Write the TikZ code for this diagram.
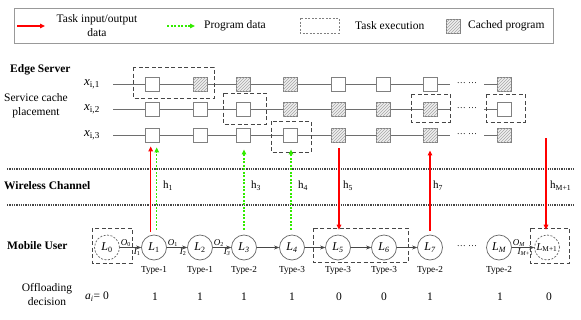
\documentclass[tikz,border=0pt]{standalone}
\usepackage{fontspec}
\setmainfont{Liberation Serif}
\usetikzlibrary{arrows.meta,patterns}
\definecolor{pgreen}{RGB}{51,235,0}
\definecolor{lgray}{RGB}{110,110,110}
\definecolor{dgray}{RGB}{70,70,70}
\begin{document}
\begin{tikzpicture}[x=1pt,y=-1pt,
  txt/.style={font=\fontsize{11.5}{14}\selectfont, inner sep=0pt},
  boldlab/.style={font=\fontsize{11.5}{14}\selectfont\bfseries, inner sep=0pt, anchor=west},
  typelab/.style={font=\fontsize{9.2}{11}\selectfont, inner sep=0pt},
  declab/.style={font=\fontsize{11.5}{14}\selectfont, inner sep=0pt},
  hlab/.style={font=\fontsize{11}{13}\selectfont, inner sep=0pt, anchor=west},
  xlab/.style={font=\fontsize{13}{15}\selectfont, inner sep=0pt},
  olab/.style={font=\fontsize{9}{10}\selectfont, inner sep=0.5pt},
  redarr/.style={draw=red, line width=1.3pt, -{Triangle[length=5pt,width=4.5pt]}},
  grnarr/.style={draw=pgreen, line width=1.1pt, dash pattern=on 2pt off 1.5pt, -{Triangle[length=5pt,width=4.5pt]}},
  execbox/.style={draw=dgray, line width=1pt, dash pattern=on 4pt off 2.5pt},
  cell/.style={draw=gray, line width=0.9pt, fill=white, minimum size=14pt, inner sep=0pt},
  cached/.style={draw=gray, line width=0.9pt, fill=gray!12, minimum size=14pt, inner sep=0pt, postaction={pattern=north east lines, pattern color=gray!70}},
  rowline/.style={draw=lgray, line width=0.9pt},
  chan/.style={draw=dgray, line width=1.3pt, dash pattern=on 1.3pt off 1pt},
  task/.style={circle, draw=gray!80!black, line width=0.7pt, minimum size=25pt, inner sep=0pt, font=\fontsize{12}{12}\selectfont},
  vtask/.style={task, dashed, dash pattern=on 2pt off 1.5pt},
  flow/.style={draw=dgray, line width=0.8pt, -{Stealth[length=5pt,width=4pt]}},
  dotslab/.style={font=\fontsize{9}{10}\selectfont, inner sep=0pt}
]
\useasboundingbox (0,0) rectangle (581,319);

% ---------------- legend ----------------
\draw[draw=gray!80, line width=0.8pt] (14,8) rectangle (553,43);
\coordinate (lr1) at (17,26); \coordinate (lr2) at (45,26);
\draw[redarr] (lr1) -- (lr2);
\node[txt, align=center] (ltask) at (97,26) {Task input/output\\data};
\coordinate (lg1) at (167,26); \coordinate (lg2) at (195,26);
\draw[grnarr] (lg1) -- (lg2);
\node[txt, anchor=west] (lprog) at (204,26) {Program data};
\draw[draw=gray, line width=0.6pt, dash pattern=on 2pt off 1.5pt] (300,18) rectangle (339,33);
\node[txt, anchor=west] (lexec) at (355,26) {Task execution};
\node[cached, line width=0.6pt] (lcache) at (453,26) {};
\node[txt, anchor=west] (lcp) at (468,26) {Cached program};

% ---------------- left labels ----------------
\node[boldlab] (es) at (10,70) {Edge Server};
\node[txt, align=center] (scp) at (36,106) {Service cache\\placement};
\node[xlab] (x1) at (92,84) {\itshape x\textsubscript{\upshape i,1}};
\node[xlab] (x2) at (92,109) {\itshape x\textsubscript{\upshape i,2}};
\node[xlab] (x3) at (92,135) {\itshape x\textsubscript{\upshape i,3}};
\node[boldlab] (wc) at (4,186) {Wireless Channel};
\node[boldlab] (mu) at (7,246) {Mobile User};
\node[txt, align=center] (od) at (47,295) {Offloading\\decision};

% ---------------- grid rows ----------------
\foreach \r/\y in {1/84,2/109,3/135}{
  \coordinate (rs\r) at (113,\y);
  \coordinate (re\r) at (450,\y);
  \coordinate (rl\r) at (484,\y);
  \draw[rowline] (rs\r) -- (re\r);
  \node[dotslab] (rd\r) at (467,\y-1) {\dots\ \dots};
}
\foreach \c/\x/\s in {1/152/cell,2/200/cached,3/243/cached,4/290/cached,5/338/cell,6/383/cell,7/430/cell,8/504/cached}
  \node[\s] (g1\c) at (\x,84) {};
\foreach \c/\x/\s in {1/152/cell,2/200/cell,3/243/cell,4/290/cached,5/338/cached,6/383/cached,7/430/cached,8/504/cell}
  \node[\s] (g2\c) at (\x,109) {};
\foreach \c/\x/\s in {1/152/cell,2/200/cell,3/243/cell,4/290/cell,5/338/cached,6/383/cached,7/430/cached,8/504/cached}
  \node[\s] (g3\c) at (\x,135) {};
\foreach \r in {1,2,3}
  \draw[rowline] (rl\r) -- (g\r8.west);

% task execution boxes (server)
\draw[execbox] (133,67) rectangle (214,98);
\draw[execbox] (223,93) rectangle (266,124);
\draw[execbox] (271,121) rectangle (311,152);
\draw[execbox] (411,94) rectangle (450,122);
\draw[execbox] (486,94) rectangle (525,122);

% ---------------- wireless channel ----------------
\coordinate (c1a) at (7,169); \coordinate (c1b) at (575,169);
\coordinate (c2a) at (7,205); \coordinate (c2b) at (575,205);
\draw[chan] (c1a) -- (c1b);
\draw[chan] (c2a) -- (c2b);

% ---------------- mobile user ----------------
\node[vtask] (L0) at (107,247.5) {\itshape L\textsubscript{\upshape 0}};
\node[task] (L1) at (154,247.5) {\itshape L\textsubscript{\upshape 1}};
\node[task] (L2) at (200,247.5) {\itshape L\textsubscript{\upshape 2}};
\node[task] (L3) at (244,247.5) {\itshape L\textsubscript{3}};
\node[task] (L4) at (292,247.5) {\itshape L\textsubscript{4}};
\node[task] (L5) at (338,247.5) {\itshape L\textsubscript{5}};
\node[task] (L6) at (384,247.5) {\itshape L\textsubscript{6}};
\node[task] (L7) at (430,247.5) {\itshape L\textsubscript{7}};
\node[task] (LM) at (499,247.5) {\itshape L\textsubscript{M}};
\node[vtask, font=\fontsize{10.5}{11}\selectfont] (LM1) at (547,247.5) {\itshape L\textsubscript{\upshape M+1}};
\node[dotslab] (mdots) at (467,246) {\dots\ \dots};

\draw[flow] (L0) -- node[olab, pos=0, anchor=south west] {\itshape O\textsubscript{\upshape 0}} node[olab, pos=1, anchor=north east] {\itshape I\textsubscript{\upshape 1}} (L1);
\draw[flow] (L1) -- node[olab, pos=0, anchor=south west] {\itshape O\textsubscript{\upshape 1}} node[olab, pos=1, anchor=north east] {\itshape I\textsubscript{\upshape 2}} (L2);
\draw[flow] (L2) -- node[olab, pos=0, anchor=south west] {\itshape O\textsubscript{\upshape 2}} node[olab, pos=1, anchor=north east] {\itshape I\textsubscript{3}} (L3);
\draw[flow] (L3) -- (L4);
\draw[flow] (L4) -- (L5);
\draw[flow] (L5) -- (L6);
\draw[flow] (L6) -- (L7);
\draw[flow] (LM) -- node[olab, pos=0, anchor=south west] {\itshape O\textsubscript{M}} node[olab, pos=1, anchor=north east] {\itshape I\textsubscript{M+1}} (LM1);

% task execution boxes (user)
\draw[execbox] (92,228) rectangle (132,263);
\draw[execbox] (313,228) rectangle (408,262);
\draw[execbox] (530,228) rectangle (569,263);

% type labels
\node[typelab] (t1) at (154,270) {Type-1};
\node[typelab] (t2) at (200,270) {Type-1};
\node[typelab] (t3) at (244,270) {Type-2};
\node[typelab] (t4) at (292,270) {Type-3};
\node[typelab] (t5) at (338,270) {Type-3};
\node[typelab] (t6) at (384,270) {Type-3};
\node[typelab] (t7) at (430,270) {Type-2};
\node[typelab] (tM) at (499,270) {Type-2};

% decisions
\node[declab] (a0) at (97,297) {{\itshape a\textsubscript{i}}= 0};
\foreach \n/\x/\v in {1/155/1,2/200/1,3/244/1,4/292/1,5/339/0,6/384/0,7/430/1,8/500/1,9/549/0}
  \node[declab] (d\n) at (\x,297) {\v};

% ---------------- vertical transfers ----------------
\draw[redarr, shorten <=3pt, shorten >=4pt] ([xshift=-3.3pt]L1.north) -- ([xshift=-3.3pt]L1.north |- g31.south);
\draw[grnarr, shorten <=5pt, shorten >=5pt] ([xshift=2.7pt]L1.north) -- ([xshift=2.7pt]L1.north |- g31.south);
\draw[grnarr, shorten <=5pt, shorten >=7pt] (L3.north) -- (L3.north |- g33.south);
\draw[grnarr, shorten <=5pt, shorten >=7pt] ([xshift=-1pt]L4.north) -- ([xshift=-1pt]L4.north |- g34.south);
\draw[redarr, shorten <=6pt, shorten >=5pt] ([xshift=1pt]g35.south) -- ([xshift=1pt]g35.south |- L5.north);
\draw[redarr, shorten <=4pt, shorten >=8pt] (L7.north) -- (L7.north |- g37.south);
\coordinate (mtop) at (546,138);
\draw[redarr, shorten >=5pt] (mtop) -- (mtop |- LM1.north);

% channel gains
\node[hlab] (h1) at (163,186) {h\textsubscript{1}};
\node[hlab] (h3) at (251,186) {h\textsubscript{3}};
\node[hlab] (h4) at (298,186) {h\textsubscript{4}};
\node[hlab] (h5) at (343,186) {h\textsubscript{5}};
\node[hlab] (h7) at (433,186) {h\textsubscript{7}};
\node[hlab] (hM) at (550,186) {h\textsubscript{M+1}};
\end{tikzpicture}
\end{document}
